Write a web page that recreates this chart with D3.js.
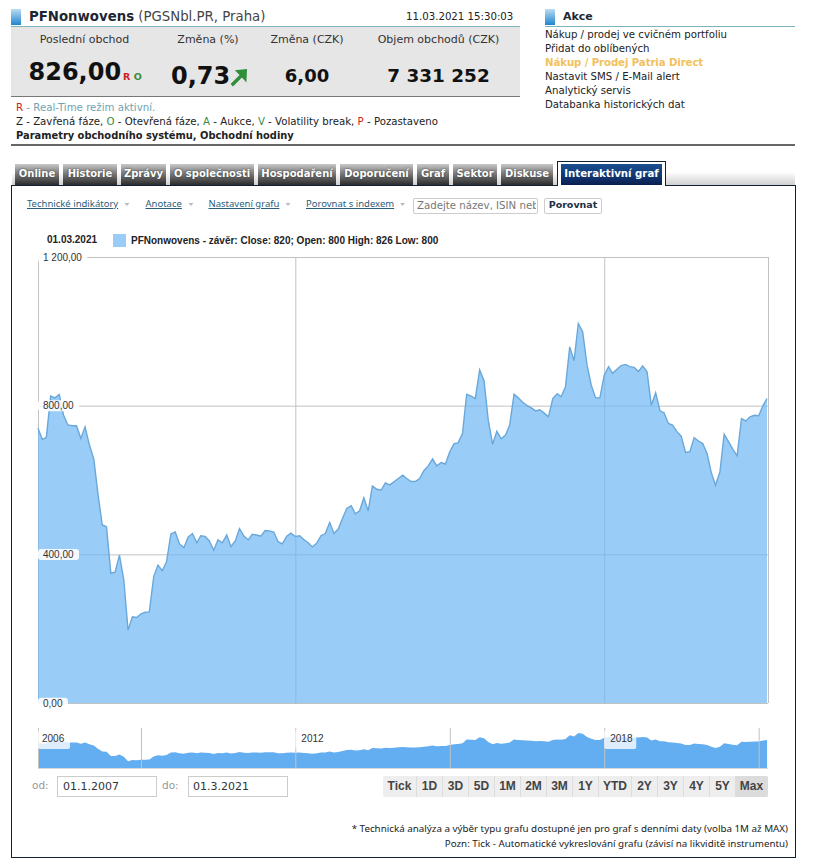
<!DOCTYPE html>
<html>
<head>
<meta charset="utf-8">
<script src="https://cdnjs.cloudflare.com/ajax/libs/d3/7.8.5/d3.min.js"></script>
<style>
body { margin:0; background:#fff; font-family:"DejaVu Sans",sans-serif; font-size:10px; color:#222; }
#page { position:relative; width:813px; height:867px; overflow:hidden; }
.t { position:absolute; white-space:nowrap; line-height:14px; }
.sq { position:absolute; width:10px; height:16px; background:linear-gradient(#bcdcf2,#1f86cf); }
.tabs { position:absolute; left:15px; top:164px; display:flex; gap:4px; }
.tab { height:21px; line-height:20px; text-align:center; font-weight:bold; font-size:10px; color:#fff;
  background:linear-gradient(#c9c9c9,#8a8a8a 35%,#2c2c2c); text-shadow:0 0 2px #333; box-sizing:border-box; }
.tab.on { background:linear-gradient(#1c4f92,#123a76 50%,#0b1f50); text-shadow:none; font-size:10.2px; }
.ranges { position:absolute; left:383px; top:776px; display:flex; height:21px; border-radius:2px; overflow:hidden; }
.ranges div { width:26px; height:21px; line-height:20px; text-align:center; background:#eee; color:#444; border-right:1px solid #ddd;
  box-sizing:border-box; font:bold 12px/20px "Liberation Sans",sans-serif; }
.box { position:absolute; box-sizing:border-box; border:1px solid #ccc; background:#fff; }
svg { position:absolute; left:0; top:0; }
</style>
</head>
<body>
<div id="page"></div>
<script>
// hodnoty z grafu - mesicni zavery od 1/2007 do 3/2021
const closes = [
739,709,715,826,821,830,775,748,746,746,712,743,694,656,564,479,474,349,352,398,
331,196,232,230,240,244,245,340,371,356,380,455,460,428,418,446,456,431,450,448,
436,411,439,431,452,421,436,469,449,439,454,452,449,464,463,460,434,428,449,457,
448,450,440,431,420,430,450,456,486,456,468,497,524,531,509,517,552,517,584,575,
573,592,587,595,604,613,604,596,596,604,625,638,657,638,647,643,676,698,700,725,
831,826,819,896,867,761,696,731,711,721,748,831,821,809,801,794,786,789,780,770,
819,832,824,851,958,921,1021,999,909,855,821,821,882,905,887,898,908,911,905,903,
892,907,891,801,835,786,781,752,748,730,718,674,676,714,705,698,671,618,586,622,
723,703,683,665,765,759,770,774,773,801,819];
const yTicks = [0, 400, 800, 1200];
const gridYears = [2012, 2018];
const navYears = [2009, 2012, 2015, 2018, 2021];
const navLabels = ["2006", "2012", "2018"];

const tabs = ["Online","Historie","Zprávy","O společnosti","Hospodaření","Doporučení","Graf","Sektor","Diskuse"];
const tabWidths = [44,54,45,84,78,73,32,44,52];
const actions = ["Nákup / prodej ve cvičném portfoliu","Přidat do oblíbených","Nákup / Prodej Patria Direct","Nastavit SMS / E-Mail alert","Analytický servis","Databanka historických dat"];
const tools = ["Technické indikátory","Anotace","Nastavení grafu","Porovnat s indexem"];
const ranges = ["Tick","1D","3D","5D","1M","2M","3M","1Y","YTD","2Y","3Y","4Y","5Y","Max"];
const stats = ["Poslední obchod","Změna (%)","Změna (CZK)","Objem obchodů (CZK)"];

const page = d3.select("#page");

function txt(x, y, s, style) {
  let d = page.append("div").attr("class","t").style("left",x+"px").style("top",(y-7)+"px").html(s);
  for (let k in (style||{})) d.style(k, style[k]);
  return d;
}
function mid(x, y, s, style) {
  return txt(x, y, s, style).style("transform","translateX(-50%)");
}
function rule(x, y, w, h, c) {
  page.append("div").style("position","absolute").style("left",x+"px").style("top",y+"px")
    .style("width",w+"px").style("height",h+"px").style("background",c);
}

// hlavicka vlevo
page.append("div").attr("class","sq").style("left","11px").style("top","9px");
rule(11,26,509,1,"#7fb3bd");
rule(11,27,509,69,"#e6e6e6");
rule(11,96,509,1,"#777");
txt(29,17,'<b style="color:#1c2733">PFNonwovens</b> <span style="color:#444">(PGSNbl.PR, Praha)</span>',{"font-size":"13.3px"});
txt(406,17,"11.03.2021 15:30:03",{"font-size":"10.2px"});
mid(84.5,40,stats[0],{"font-size":"11px","color":"#333"});
mid(208,40,stats[1],{"font-size":"11px","color":"#333"});
mid(307,40,stats[2],{"font-size":"11px","color":"#333"});
mid(438.5,40,stats[3],{"font-size":"11px","color":"#333"});
txt(28.5,72,"826,00",{"font-size":"24px","font-weight":"bold","color":"#111"});
txt(123,77,'<span style="color:#c22">R</span> <span style="color:#3a8a3a">O</span>',{"font-size":"9.5px","font-weight":"bold"});
txt(171,76,"0,73",{"font-size":"24px","font-weight":"bold","color":"#111"});
mid(307,76,"6,00",{"font-size":"18px","font-weight":"bold","color":"#111"});
mid(438.5,76,"7 331 252",{"font-size":"18.4px","font-weight":"bold","color":"#111"});

// legenda rezimu
txt(16,108,'<span style="color:#c22">R</span> <span style="color:#6fa3b5">- Real-Time režim aktivní.</span>',{"font-size":"10.2px"});
txt(16,122,'Z - Zavřená fáze, <span style="color:#3a8a3a">O</span> - Otevřená fáze, <span style="color:#3a8a3a">A</span> - Aukce, <span style="color:#3a8a3a">V</span> - Volatility break, <span style="color:#c22">P</span> - Pozastaveno',{"font-size":"10.2px"});
txt(16,136,"<b>Parametry obchodního systému, Obchodní hodiny</b>",{"font-size":"9.9px"});
rule(11,144,784,2,"#666");

// akce vpravo
page.append("div").attr("class","sq").style("left","545px").style("top","9px");
txt(563,17,"<b>Akce</b>",{"font-size":"11px","color":"#1c2733"});
rule(545,26,250,1,"#7fb3bd");
actions.forEach((a,i) => txt(545,35+i*14,a,i==2 ? {"font-size":"10.2px","font-weight":"bold","color":"#f2c15e","letter-spacing":"-0.1px"} : {"font-size":"10.2px"}));

// panel a zalozky
page.append("div").style("position","absolute").style("left","12px").style("top","172px")
  .style("width","783px").style("height","13px").style("background","linear-gradient(#fff,#d0d0d0)");
page.append("div").attr("class","box").style("left","11px").style("top","185px")
  .style("width","785px").style("height","673px").style("border-color","#0e2233");
const tabRow = page.append("div").attr("class","tabs");
tabRow.selectAll(".tab").data(tabs).enter().append("div").attr("class","tab")
  .style("width",(d,i) => tabWidths[i]+"px").text(d => d);
page.append("div").style("position","absolute").style("left","557px").style("top","161px")
  .style("width","109px").style("height","25px").style("box-sizing","border-box")
  .style("border","1px solid #0e2233").style("border-bottom","none").style("background","#fff");
page.append("div").attr("class","tab on").style("position","absolute").style("left","561px").style("top","164px")
  .style("width","101px").text("Interaktivní graf");

// nastroje nad grafem
const toolX = [27,145.5,208.5,306];
tools.forEach((s,i) => {
  txt(toolX[i],204,s,{"font-family":"'Noto Sans'","font-size":"9.5px","color":"#2b5c7c","text-decoration":"underline"});
});
page.append("div").attr("class","box").style("left","413px").style("top","198px").style("width","125px").style("height","16px").style("border-radius","2px");
txt(417,206,"Zadejte název, ISIN neb",{"font-size":"10.2px","color":"#777","width":"119px","overflow":"hidden"});
page.append("div").attr("class","box").style("left","544px").style("top","198px").style("width","58px").style("height","16px").style("border-radius","2px");
mid(573,205,"<b>Porovnat</b>",{"font-size":"9.5px","color":"#1c2f44"});

// graf
const left = 38, right = 768, top_ = 257, bottom = 703;
const date = i => d3.utcMonth.offset(new Date(Date.UTC(2007,0,1)), i);
const x = d3.scaleUtc().domain([date(0), date(closes.length-1)]).range([left, right-1]);
const y = d3.scaleLinear().domain([0,1200]).range([bottom, top_]);
const navY = d3.scaleLinear().domain([0,1170]).range([768,728]);
const yearDate = yr => new Date(Date.UTC(yr,0,1));
const fmtNum = d3.formatLocale({decimal:",",thousands:" ",grouping:[3],currency:["",""]}).format(",.2f");

const svg = page.append("svg").attr("width",813).attr("height",867);
const GRID = "#c2c2c2";

svg.append("line").attr("x1",left+.5).attr("x2",left+.5).attr("y1",top_).attr("y2",bottom).attr("stroke",GRID);
svg.append("line").attr("x1",right+.5).attr("x2",right+.5).attr("y1",top_).attr("y2",bottom).attr("stroke",GRID);

const xGrid = d3.axisBottom(x).tickValues(gridYears.map(yearDate)).tickSize(top_-bottom).tickFormat("");
svg.append("g").attr("transform",`translate(0,${bottom})`).call(xGrid)
  .call(g => g.select(".domain").remove())
  .call(g => g.selectAll("line").attr("stroke",GRID));

const yGrid = d3.axisLeft(y).tickValues(yTicks).tickSize(left-right).tickFormat("");
svg.append("g").attr("transform",`translate(${left},0)`).call(yGrid)
  .call(g => g.select(".domain").remove())
  .call(g => g.selectAll("line").attr("stroke",GRID).attr("x1",0).attr("x2",right-left));

const area = d3.area().x((d,i) => x(date(i))).y0(bottom).y1(d => y(d));
const line = d3.line().x((d,i) => x(date(i))).y(d => y(d));
svg.append("path").datum(closes).attr("d",area).attr("fill","#6db6f4").attr("fill-opacity",.7);
svg.append("path").datum(closes).attr("d",line).attr("fill","none").attr("stroke","#6aa8da").attr("stroke-width",1.4);

// popisky osy y s podkladem
const yLabels = d3.axisLeft(y).tickValues(yTicks).tickSize(0).tickFormat(fmtNum);
const yG = svg.append("g").attr("transform",`translate(${left},0)`).call(yLabels);
yG.select(".domain").remove();
yG.selectAll(".tick").each(function(d) {
  const g = d3.select(this);
  const t = g.select("text").attr("x",5).attr("dy","0.32em").attr("text-anchor","start")
    .attr("fill","#333").attr("font-family","'Liberation Sans'").attr("font-size",10);
  const b = t.node().getBBox();
  g.insert("rect","text").attr("x",0).attr("y",b.y).attr("width",b.width+10).attr("height",b.height)
    .attr("rx",3).attr("fill","#fff").attr("fill-opacity",.88);
});

// navigator
const navX = d3.axisBottom(x).tickValues(navYears.map(yearDate)).tickSize(-40).tickFormat("");
const navArea = d3.area().x((d,i) => x(date(i))).y0(navY(0)).y1(d => navY(d));
svg.append("path").datum(closes).attr("d",navArea).attr("fill","#63aef0");
svg.append("g").attr("transform","translate(0,768)").call(navX)
  .call(g => g.select(".domain").remove())
  .call(g => g.selectAll("line").attr("stroke",GRID));
svg.append("line").attr("x1",left+.5).attr("x2",left+.5).attr("y1",728).attr("y2",768).attr("stroke",GRID);
svg.append("line").attr("x1",left).attr("x2",right).attr("y1",768.5).attr("y2",768.5).attr("stroke","#d8d8d8");

const navLabelX = [left, x(yearDate(2012)), x(yearDate(2018))];
navLabels.forEach((s,i) => {
  const g = svg.append("g").attr("transform",`translate(${navLabelX[i]},0)`);
  g.append("rect").attr("x",0).attr("y",730).attr("width",32).attr("height",19).attr("rx",2).attr("fill","#fff").attr("fill-opacity",.78);
  g.append("text").attr("x",i==0 ? 4 : 6).attr("y",742).attr("fill","#333").attr("font-family","'Liberation Sans'").attr("font-size",10).text(s);
});

// legenda grafu
svg.append("text").attr("x",47).attr("y",243).attr("font-family","'Liberation Sans'").attr("font-weight","bold").attr("font-size",10).attr("fill","#222").text("01.03.2021");
svg.append("rect").attr("x",113).attr("y",234).attr("width",13).attr("height",13).attr("fill","#99ccf7");
svg.append("text").attr("x",131).attr("y",244).attr("font-family","'Liberation Sans'").attr("font-weight","bold").attr("font-size",10).attr("fill","#222")
  .text("PFNonwovens - závěr: Close: 820; Open: 800 High: 826 Low: 800");

// sipka zmeny
svg.append("path").attr("d","M232 84 L241 75 L237 71 L246 70 L245.5 80 L242 76 L233 85 Z").attr("fill","#2f8f3a").attr("stroke","#2f8f3a").attr("stroke-width",2);

// trojuhelniky u menu
[124.5,188.5,285.5,400].forEach(tx => {
  svg.append("path").attr("d",`M${tx} 203 h5 l-2.5 3 z`).attr("fill","#bbb");
});

// spodni rada
txt(32,785,"od:",{"font-size":"10.5px","color":"#999"});
txt(162,785,"do:",{"font-size":"10.5px","color":"#999"});
page.append("div").attr("class","box").style("left","57px").style("top","776px").style("width","100px").style("height","21px");
page.append("div").attr("class","box").style("left","188px").style("top","776px").style("width","100px").style("height","21px");
txt(63,787,"01.1.2007",{"font-size":"11px","color":"#333"});
txt(193,787,"01.3.2021",{"font-size":"11px","color":"#333"});

const rangeRow = page.append("div").attr("class","ranges");
rangeRow.selectAll("div").data(ranges).enter().append("div").text(d => d)
  .style("width",d => d=="Tick" ? "34px" : d=="YTD" ? "33px" : d=="Max" ? "32px" : "26px")
  .style("background",d => d=="Max" ? "#dcdcdc" : "#eee");

page.append("div").attr("class","t").style("right","25px").style("top","822px").style("font-size","9.8px").style("font-family","'Noto Sans'")
  .text("* Technická analýza a výběr typu grafu dostupné jen pro graf s denními daty (volba 1M až MAX)");
page.append("div").attr("class","t").style("right","25px").style("top","837px").style("font-size","9.8px").style("font-family","'Noto Sans'")
  .text("Pozn: Tick - Automatické vykreslování grafu (závisí na likviditě instrumentu)");
</script>
</body>
</html>
